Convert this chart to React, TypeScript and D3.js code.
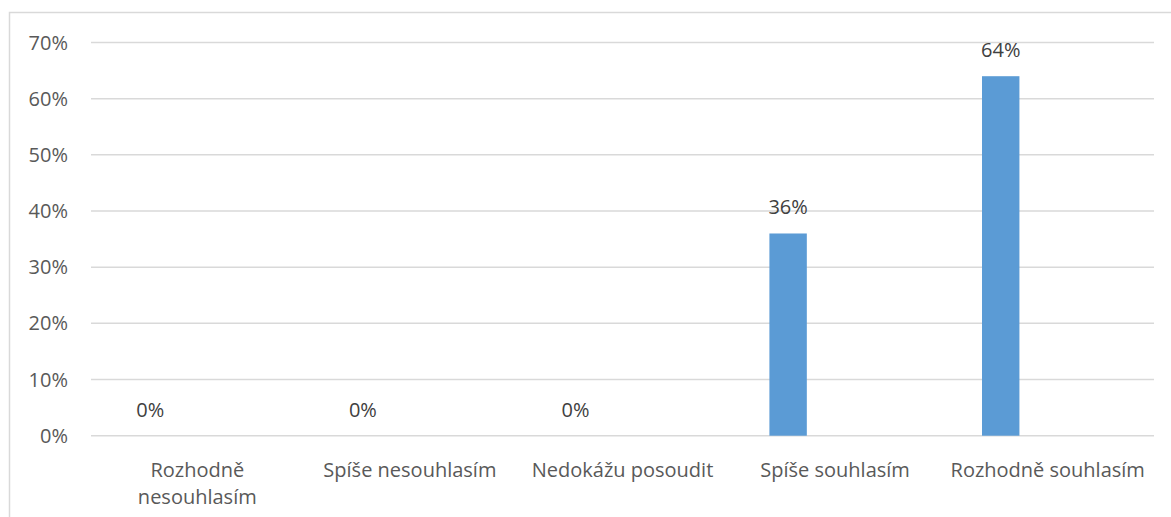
import React from "react";
import * as d3 from "d3";

const categories: string[][] = [
  ["Rozhodně", "nesouhlasím"],
  ["Spíše nesouhlasím"],
  ["Nedokážu posoudit"],
  ["Spíše souhlasím"],
  ["Rozhodně souhlasím"],
];
const values: number[] = [0, 0, 0, 36, 64];
const yTicks: number[] = [0, 10, 20, 30, 40, 50, 60, 70];

const W = 1171;
const H = 517;
const plot = { left: 91, right: 1154, top: 42.5, bottom: 435.7 };
const FONT = "'Open Sans', sans-serif";

export default function App() {
  const x = d3
    .scaleBand<number>()
    .domain(categories.map((_, i) => i))
    .range([plot.left, plot.right])
    .padding(0);
  const y = d3.scaleLinear().domain([0, 70]).range([plot.bottom, plot.top]);
  const bw = x.bandwidth();
  const barOff = 0.191 * bw;
  const barW = 0.176 * bw;

  return (
    <svg
      width={W}
      height={H}
      style={{ position: "absolute", left: 0, top: 0, background: "#fff" }}
      fontFamily={FONT}
    >
      <rect x={9.5} y={12.5} width={W + 20} height={H + 20} fill="#fff" stroke="#D9D9D9" strokeWidth={1.5} />
      {yTicks.map((t) => (
        <g key={t}>
          <line
            x1={plot.left}
            x2={plot.right}
            y1={y(t)}
            y2={y(t)}
            stroke="#D9D9D9"
            strokeWidth={1.5}
          />
          <text x={68} y={y(t) + 7} textAnchor="end" fontSize={20} fill="#595959">
            {t}%
          </text>
        </g>
      ))}
      {values.map((v, i) => {
        const bx = (x(i) as number) + barOff;
        return (
          <g key={i}>
            {v > 0 && (
              <rect x={bx} y={y(v)} width={barW} height={y(0) - y(v)} fill="#5B9BD5" />
            )}
            <text
              x={bx + barW / 2}
              y={y(v) - 19}
              textAnchor="middle"
              fontSize={20}
              fill="#404040"
            >
              {v}%
            </text>
          </g>
        );
      })}
      {categories.map((lines, i) => (
        <text
          key={i}
          x={(x(i) as number) + bw / 2}
          y={476.7}
          textAnchor="middle"
          fontSize={20}
          fill="#595959"
        >
          {lines.map((l, j) => (
            <tspan key={j} x={(x(i) as number) + bw / 2} dy={j === 0 ? 0 : 27.6}>
              {l}
            </tspan>
          ))}
        </text>
      ))}
    </svg>
  );
}
